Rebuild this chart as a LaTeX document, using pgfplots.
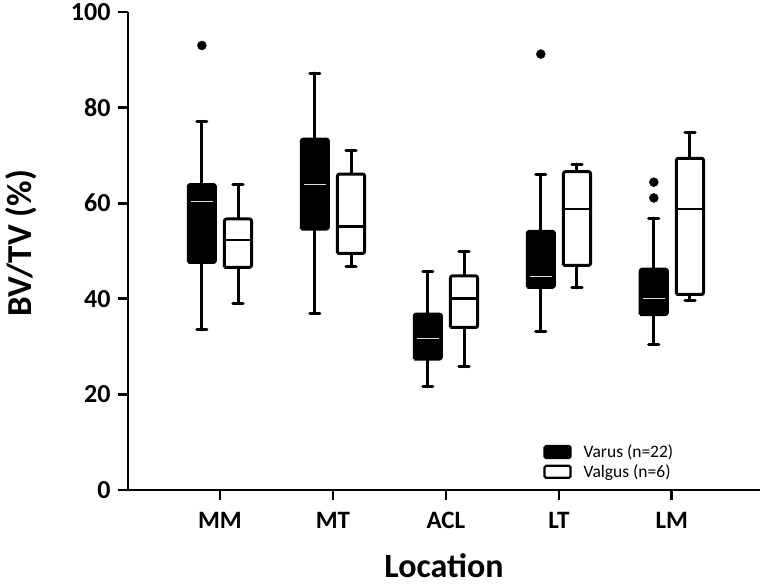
\documentclass[border=0pt]{standalone}
\usepackage{pgfplots}
\pgfplotsset{compat=1.18}
\usepackage{fontspec}
\setmainfont{Carlito}
\begin{document}
\begin{tikzpicture}
\begin{axis}[
  name=main,
  at={(128pt,94pt)}, anchor=south west,
  scale only axis, width=632pt, height=478pt,
  xmin=0.186, xmax=5.78, ymin=0, ymax=100,
  axis x line*=bottom, axis y line*=left,
  axis line style={line width=2.8pt},
  xtick={1,2,3,4,5}, xticklabels={MM,MT,ACL,LT,LM},
  ytick={0,20,40,60,80,100},
  tick align=outside, major tick length=10pt,
  major tick style={line width=2.8pt, black},
  /pgf/number format/assume math mode=true,
  xticklabel style={font=\fontsize{25}{29}\selectfont\bfseries, yshift=-9pt},
  yticklabel style={font=\fontsize{26}{30}\selectfont\bfseries, xshift=-4pt},
  every axis x label/.style={at={(rel axis cs:0.5,0)}, yshift=-76pt, anchor=center, font=\fontsize{34}{39}\selectfont\bfseries},
  every axis y label/.style={at={(rel axis cs:0,0.5)}, xshift=-107pt, yshift=8pt, rotate=90, anchor=center, font=\fontsize{35}{40}\selectfont\bfseries},
  xlabel={Location}, ylabel={BV/TV (\%)},
  legend style={at={(rel axis cs:0.657,0.099)}, anchor=north west, draw=none, fill=none,
    font=\fontsize{17.5}{20}\selectfont, row sep=1.5pt, inner sep=0pt,
    /tikz/every odd column/.append style={column sep=10pt}},
  legend cell align=left,
  unbounded coords=jump,
  clip=false,
]
% whiskers and caps (varus and valgus)
\addplot[black, line width=3pt, line cap=round, mark=none, forget plot] coordinates {
 (0.84,33.5) (0.84,47.6) (0.84,nan) (0.84,63.9) (0.84,77.1) (0.84,nan)
 (0.795,33.5) (0.885,33.5) (0.84,nan) (0.795,77.1) (0.885,77.1) (0.84,nan)
 (1.84,37.0) (1.84,54.6) (1.84,nan) (1.84,73.4) (1.84,87.2) (1.84,nan)
 (1.795,37.0) (1.885,37.0) (1.84,nan) (1.795,87.2) (1.885,87.2) (1.84,nan)
 (2.84,21.6) (2.84,27.4) (2.84,nan) (2.84,36.8) (2.84,45.7) (2.84,nan)
 (2.795,21.6) (2.885,21.6) (2.84,nan) (2.795,45.7) (2.885,45.7) (2.84,nan)
 (3.84,33.2) (3.84,42.4) (3.84,nan) (3.84,54.1) (3.84,65.9) (3.84,nan)
 (3.795,33.2) (3.885,33.2) (3.84,nan) (3.795,65.9) (3.885,65.9) (3.84,nan)
 (4.84,30.5) (4.84,36.7) (4.84,nan) (4.84,46.2) (4.84,56.9) (4.84,nan)
 (4.795,30.5) (4.885,30.5) (4.84,nan) (4.795,56.9) (4.885,56.9) (4.84,nan)
 (1.16,39.0) (1.16,46.6) (1.16,nan) (1.16,56.7) (1.16,63.9) (1.16,nan)
 (1.115,39.0) (1.205,39.0) (1.16,nan) (1.115,63.9) (1.205,63.9) (1.16,nan)
 (2.16,46.8) (2.16,49.5) (2.16,nan) (2.16,66.1) (2.16,71.0) (2.16,nan)
 (2.115,46.8) (2.205,46.8) (2.16,nan) (2.115,71.0) (2.205,71.0) (2.16,nan)
 (3.16,25.8) (3.16,34.0) (3.16,nan) (3.16,44.8) (3.16,49.8) (3.16,nan)
 (3.115,25.8) (3.205,25.8) (3.16,nan) (3.115,49.8) (3.205,49.8) (3.16,nan)
 (4.16,42.3) (4.16,47.0) (4.16,nan) (4.16,66.6) (4.16,68.2) (4.16,nan)
 (4.115,42.3) (4.205,42.3) (4.16,nan) (4.115,68.2) (4.205,68.2) (4.16,nan)
 (5.16,39.6) (5.16,40.9) (5.16,nan) (5.16,69.4) (5.16,74.8) (5.16,nan)
 (5.115,39.6) (5.205,39.6) (5.16,nan) (5.115,74.8) (5.205,74.8)
};
% varus boxes
\addplot[draw=black, fill=black, line width=3pt, line join=round, rounded corners=2pt, mark=none, forget plot] coordinates {
 (0.72,47.6) (0.96,47.6) (0.96,63.9) (0.72,63.9) (0.72,47.6) (0.72,nan)
 (1.72,54.6) (1.96,54.6) (1.96,73.4) (1.72,73.4) (1.72,54.6) (1.72,nan)
 (2.72,27.4) (2.96,27.4) (2.96,36.8) (2.72,36.8) (2.72,27.4) (2.72,nan)
 (3.72,42.4) (3.96,42.4) (3.96,54.1) (3.72,54.1) (3.72,42.4) (3.72,nan)
 (4.72,36.7) (4.96,36.7) (4.96,46.2) (4.72,46.2) (4.72,36.7)
};
% valgus boxes
\addplot[draw=black, fill=white, line width=3pt, line join=round, rounded corners=2pt, mark=none, forget plot] coordinates {
 (1.04,46.6) (1.28,46.6) (1.28,56.7) (1.04,56.7) (1.04,46.6) (1.04,nan)
 (2.04,49.5) (2.28,49.5) (2.28,66.1) (2.04,66.1) (2.04,49.5) (2.04,nan)
 (3.04,34.0) (3.28,34.0) (3.28,44.8) (3.04,44.8) (3.04,34.0) (3.04,nan)
 (4.04,47.0) (4.28,47.0) (4.28,66.6) (4.04,66.6) (4.04,47.0) (4.04,nan)
 (5.04,40.9) (5.28,40.9) (5.28,69.4) (5.04,69.4) (5.04,40.9)
};
% varus medians
\addplot[draw=black!12, line width=1.3pt, mark=none, forget plot] coordinates {
 (0.745,60.3) (0.935,60.3) (0.745,nan)
 (1.745,63.9) (1.935,63.9) (1.745,nan)
 (2.745,31.7) (2.935,31.7) (2.745,nan)
 (3.745,44.6) (3.935,44.6) (3.745,nan)
 (4.745,40.0) (4.935,40.0)
};
% valgus medians
\addplot[draw=black, line width=2.8pt, mark=none, forget plot] coordinates {
 (1.04,52.3) (1.28,52.3) (1.04,nan)
 (2.04,55.1) (2.28,55.1) (2.04,nan)
 (3.04,40.0) (3.28,40.0) (3.04,nan)
 (4.04,58.8) (4.28,58.8) (4.04,nan)
 (5.04,58.8) (5.28,58.8)
};
% outliers (varus)
\addplot[only marks, mark=*, mark size=4.5pt, mark options={fill=black, draw=black, line width=0.4pt}, forget plot] coordinates {
 (0.84,93.0) (3.84,91.2) (4.84,64.4) (4.84,61.1)
};
\addlegendimage{legend image code/.code={\draw[black, fill=black, line width=2.2pt, rounded corners=1.5pt] (0pt,-6pt) rectangle (26pt,6pt);}}
\addlegendentry{Varus (n=22)}
\addlegendimage{legend image code/.code={\draw[black, fill=white, line width=2.2pt, rounded corners=1.5pt] (0pt,-6pt) rectangle (26pt,6pt);}}
\addlegendentry{Valgus (n=6)}
\end{axis}
\path ([shift={(-128pt,-94pt)}]main.south west) rectangle ++(768pt,584pt);
\end{tikzpicture}
\end{document}
